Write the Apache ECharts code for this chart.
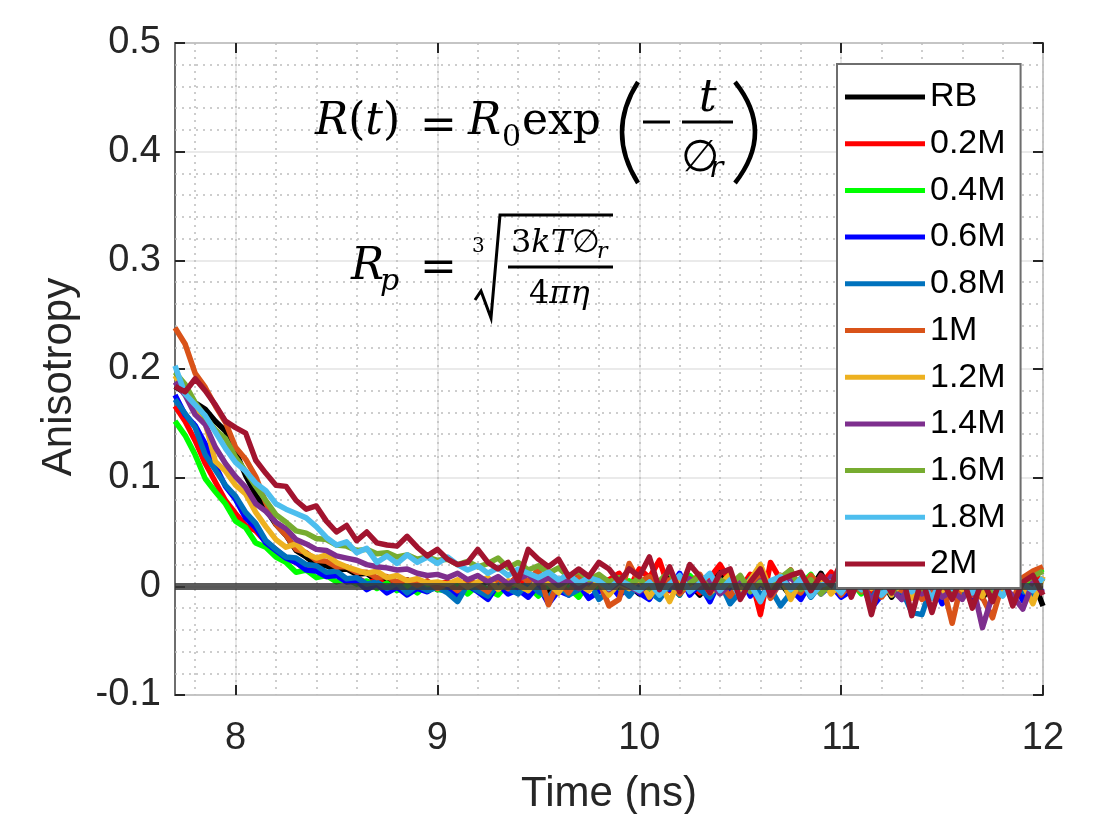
<!DOCTYPE html>
<html>
<head>
<meta charset="utf-8">
<title>Anisotropy</title>
<script src="https://cdn.jsdelivr.net/npm/echarts@6/dist/echarts.min.js"></script>
<style>
  html, body { margin: 0; padding: 0; background: #fff; }
  #chartContainer { width: 1106px; height: 814px; }
</style>
</head>
<body>
<div id="chartContainer"></div>
<script>
// 时间 (ns)
const times = [
  7.70, 7.75, 7.80, 7.85, 7.90, 7.95,
  8.00, 8.05, 8.10, 8.15, 8.20, 8.25, 8.30, 8.35, 8.40, 8.45, 8.50, 8.55, 8.60, 8.65, 8.70, 8.75, 8.80, 8.85, 8.90, 8.95,
  9.00, 9.05, 9.10, 9.15, 9.20, 9.25, 9.30, 9.35, 9.40, 9.45, 9.50, 9.55, 9.60, 9.65, 9.70, 9.75, 9.80, 9.85, 9.90, 9.95,
  10.00, 10.05, 10.10, 10.15, 10.20, 10.25, 10.30, 10.35, 10.40, 10.45, 10.50, 10.55, 10.60, 10.65, 10.70, 10.75, 10.80, 10.85, 10.90, 10.95,
  11.00, 11.05, 11.10, 11.15, 11.20, 11.25, 11.30, 11.35, 11.40, 11.45, 11.50, 11.55, 11.60, 11.65, 11.70, 11.75, 11.80, 11.85, 11.90, 11.95,
  12.00
];

// 各浓度的各向异性数据
const rb = [
  0.184, 0.178, 0.169, 0.163, 0.152, 0.143, 0.124, 0.102, 0.084, 0.071, 0.057, 0.047, 0.033, 0.027,
  0.020, 0.019, 0.015, 0.016, 0.011, 0.012, 0.005, 0.008, 0.002, 0.006, -0.001, 0.004, -0.003,
  0.002, -0.004, 0.003, -0.001, 0.005, -0.006, 0.001, -0.003, 0.004, -0.002,
  -0.005, 0.002, -0.001, -0.006, 0.003, -0.002, 0.006, -0.004, 0.001, -0.007,
  0.004, -0.002, 0.008, -0.005, 0.002, -0.008, 0.006, 0.013, -0.003, 0.005,
  -0.006, 0.010, -0.004, 0.003, -0.009, 0.007, -0.002, 0.012, -0.005, 0.004,
  -0.008, 0.009, -0.003, 0.006, -0.010, 0.004, -0.006, 0.011, -0.002, -0.009,
  0.005, -0.004, 0.008, -0.011, 0.003, -0.006, 0.010, -0.003, 0.006, -0.018
];
const m02 = [
  0.166, 0.152, 0.134, 0.113, 0.096, 0.079, 0.067, 0.056, 0.051, 0.041, 0.034, 0.026, 0.022, 0.015,
  0.015, 0.009, 0.011, 0.005, 0.008, 0.003, 0.006, 0.001, 0.004, -0.002, 0.003, 0.000, 0.002,
  0.004, -0.002, 0.006, 0.001, -0.003, 0.005, 0.002, 0.009, -0.001, 0.004,
  0.007, -0.002, 0.005, 0.010, 0.001, -0.003, 0.006, 0.012, -0.002, 0.016,
  0.008, 0.024, -0.004, 0.010, 0.003, -0.006, 0.008, 0.020, 0.004, -0.003,
  0.011, -0.026, 0.022, 0.006, 0.015, -0.004, 0.009, 0.002, 0.013, -0.003,
  0.007, 0.012, -0.005, 0.009, 0.002, -0.008, 0.010, 0.004, -0.006, 0.008,
  -0.003, 0.006, -0.009, 0.004, 0.011, -0.002, 0.007, -0.006, 0.012, 0.004
];
const m04 = [
  0.152, 0.139, 0.121, 0.099, 0.087, 0.076, 0.060, 0.054, 0.040, 0.036, 0.027, 0.022, 0.013, 0.015,
  0.008, 0.010, 0.004, 0.007, 0.002, 0.005, -0.002, 0.003, -0.004, 0.001, -0.006, 0.002, -0.003,
  -0.004, 0.002, -0.007, 0.001, -0.003, -0.008, 0.003, -0.005, 0.000, -0.009,
  0.002, -0.006, -0.001, -0.010, 0.004, -0.004, 0.001, -0.007, 0.005, -0.003,
  0.008, -0.002, 0.004, -0.008, 0.010, 0.001, -0.005, 0.006, -0.012, 0.003,
  -0.004, 0.009, -0.002, 0.005, -0.008, 0.002, 0.011, -0.004, 0.006, -0.001,
  0.004, -0.007, 0.008, -0.002, 0.012, -0.005, 0.003, -0.009, 0.006, 0.001,
  -0.006, 0.009, -0.003, 0.005, -0.008, 0.007, 0.002, -0.005, 0.010, 0.016
];
const m06 = [
  0.176, 0.158, 0.148, 0.131, 0.111, 0.092, 0.080, 0.063, 0.054, 0.040, 0.033, 0.026, 0.022, 0.015,
  0.014, 0.009, 0.010, 0.004, 0.005, -0.003, 0.002, -0.006, -0.001, -0.008, -0.002, -0.005, 0.001,
  -0.003, -0.009, 0.001, -0.005, -0.012, 0.002, -0.007, -0.003, -0.010, 0.001,
  -0.016, -0.004, -0.008, 0.002, -0.011, -0.005, 0.003, -0.009, 0.001, -0.006,
  -0.012, 0.005, -0.003, 0.012, -0.008, 0.002, -0.014, 0.006, -0.004, 0.009,
  -0.009, 0.003, -0.006, 0.010, -0.002, -0.012, 0.004, -0.007, 0.001, -0.010,
  -0.004, 0.006, -0.020, -0.008, 0.003, -0.012, 0.001, -0.006, 0.005, -0.016,
  -0.002, 0.008, -0.010, -0.004, 0.003, -0.008, 0.006, -0.013, 0.001, -0.005
];
const m08 = [
  0.172, 0.159, 0.146, 0.121, 0.107, 0.093, 0.083, 0.068, 0.058, 0.042, 0.034, 0.027, 0.026, 0.020,
  0.019, 0.013, 0.014, 0.007, 0.008, 0.002, 0.004, -0.002, 0.003, -0.006, 0.001, -0.004, -0.001,
  -0.006, -0.014, 0.002, -0.004, -0.009, 0.003, -0.002, -0.007, 0.004, -0.005,
  -0.010, 0.001, -0.008, -0.003, 0.005, -0.012, -0.004, 0.002, -0.009, 0.003,
  -0.005, -0.012, 0.001, -0.008, 0.006, -0.003, -0.010, 0.004, -0.016, -0.005,
  0.007, -0.008, -0.002, -0.018, -0.006, 0.005, -0.010, 0.002, -0.004, 0.008,
  -0.006, 0.003, -0.012, 0.004, -0.008, -0.003, -0.024, -0.026, 0.002, -0.007,
  0.004, -0.010, 0.001, -0.005, 0.007, -0.008, 0.003, -0.004, -0.009, 0.008
];
const m10 = [
  0.238, 0.223, 0.196, 0.183, 0.166, 0.151, 0.128, 0.117, 0.101, 0.077, 0.057, 0.047, 0.034, 0.031,
  0.024, 0.023, 0.018, 0.018, 0.013, 0.013, 0.008, 0.009, 0.004, 0.006, 0.001, 0.005, -0.002,
  0.003, -0.004, 0.006, 0.001, -0.005, 0.008, -0.002, 0.012, 0.004, 0.016,
  -0.017, 0.004, -0.006, 0.008, -0.003, 0.005, -0.018, -0.012, 0.021, 0.004,
  0.009, -0.004, 0.006, -0.007, 0.003, 0.011, -0.005, 0.002, -0.009, 0.005,
  -0.003, 0.008, -0.011, 0.004, 0.000, -0.006, 0.010, -0.002, 0.006, -0.008,
  0.003, -0.005, 0.007, -0.010, 0.002, -0.004, 0.009, -0.012, -0.006, 0.004,
  -0.034, 0.006, -0.008, -0.010, -0.029, 0.003, -0.012, 0.008, 0.014, 0.018
];
const m12 = [
  0.194, 0.178, 0.164, 0.150, 0.115, 0.106, 0.093, 0.085, 0.068, 0.055, 0.043, 0.036, 0.039, 0.030,
  0.026, 0.029, 0.022, 0.018, 0.015, 0.012, 0.014, 0.008, 0.010, 0.005, 0.007, 0.003, 0.004,
  0.002, 0.006, -0.001, 0.004, 0.008, -0.003, 0.005, 0.001, -0.004, 0.006,
  0.003, -0.006, 0.008, 0.002, -0.004, 0.005, -0.008, 0.003, -0.002, 0.007,
  -0.010, 0.004, -0.014, 0.006, -0.003, 0.009, -0.006, 0.002, 0.011, -0.005,
  0.006, 0.020, -0.004, 0.010, -0.012, 0.005, -0.002, 0.008, -0.007, 0.003,
  -0.005, 0.009, -0.002, 0.012, -0.008, 0.004, -0.011, 0.006, 0.001, -0.006,
  0.008, -0.003, 0.005, -0.009, 0.010, -0.004, 0.007, 0.002, -0.016, 0.009
];
const m14 = [
  0.188, 0.176, 0.158, 0.149, 0.128, 0.113, 0.101, 0.091, 0.076, 0.069, 0.059, 0.053, 0.043, 0.039,
  0.034, 0.033, 0.028, 0.026, 0.024, 0.020, 0.018, 0.017, 0.015, 0.016, 0.012, 0.010, 0.011,
  0.008, 0.012, 0.006, 0.010, 0.004, 0.009, 0.002, 0.007, 0.011, 0.003,
  0.008, 0.001, 0.006, -0.002, 0.005, 0.009, -0.003, 0.004, 0.000, -0.005,
  0.003, -0.006, 0.002, -0.003, 0.007, -0.001, 0.004, -0.007, 0.002, 0.006,
  -0.004, 0.005, -0.008, 0.003, 0.008, -0.002, 0.004, -0.006, 0.009, 0.001,
  -0.005, 0.006, -0.014, 0.002, -0.003, -0.012, 0.004, -0.007, 0.001, -0.010,
  -0.004, -0.012, 0.003, -0.038, -0.008, 0.002, -0.009, -0.021, 0.004, -0.006
];
const m16 = [
  0.197, 0.186, 0.169, 0.156, 0.144, 0.136, 0.119, 0.106, 0.092, 0.079, 0.066, 0.059, 0.051, 0.049,
  0.044, 0.043, 0.038, 0.037, 0.033, 0.034, 0.030, 0.031, 0.027, 0.029, 0.025, 0.027, 0.024,
  0.025, 0.020, 0.023, 0.018, 0.021, 0.026, 0.017, 0.022, 0.015, 0.019,
  0.012, 0.017, 0.009, 0.014, 0.006, 0.011, 0.004, 0.008, 0.002, 0.007,
  -0.002, 0.005, 0.014, -0.004, 0.003, 0.009, -0.003, 0.006, 0.001, 0.010,
  -0.005, 0.004, -0.002, 0.008, 0.015, -0.003, 0.006, -0.007, 0.003, 0.000,
  0.006, -0.004, 0.008, 0.002, -0.006, 0.005, 0.011, -0.002, 0.007, 0.003,
  -0.003, 0.007, 0.001, 0.010, -0.004, 0.006, 0.012, 0.003, 0.009, 0.014
];
const m18 = [
  0.203, 0.177, 0.167, 0.157, 0.142, 0.127, 0.114, 0.106, 0.095, 0.088, 0.076, 0.071, 0.067, 0.063,
  0.055, 0.045, 0.038, 0.041, 0.031, 0.035, 0.022, 0.028, 0.021, 0.029, 0.022, 0.027, 0.021,
  0.027, 0.020, 0.015, 0.019, 0.012, 0.017, 0.010, 0.016, 0.012, 0.008,
  0.013, 0.006, 0.011, 0.003, 0.008, 0.005, -0.002, 0.006, 0.001, -0.004,
  0.004, -0.008, 0.002, 0.010, -0.005, 0.003, 0.012, -0.004, 0.006, -0.010,
  0.002, -0.014, 0.005, 0.009, -0.003, 0.007, -0.009, 0.001, 0.004, -0.006,
  0.008, -0.003, 0.005, -0.008, 0.002, 0.010, -0.005, 0.003, -0.011, 0.006,
  -0.002, 0.007, -0.006, 0.004, 0.000, -0.009, 0.005, 0.002, -0.004, 0.008
];
const m20 = [
  0.184, 0.179, 0.191, 0.180, 0.167, 0.152, 0.146, 0.141, 0.116, 0.104, 0.093, 0.092, 0.079, 0.071,
  0.074, 0.060, 0.050, 0.056, 0.042, 0.050, 0.040, 0.038, 0.037, 0.046, 0.036, 0.028, 0.034,
  0.025, 0.020, 0.022, 0.034, 0.022, 0.016, 0.022, 0.005, 0.034, 0.025,
  0.018, 0.025, 0.009, 0.016, 0.009, 0.022, 0.016, 0.004, 0.016, 0.009,
  0.027, -0.003, 0.018, -0.005, 0.020, 0.009, -0.006, 0.012, 0.016, -0.012,
  0.004, 0.016, -0.008, 0.006, 0.010, 0.013, -0.004, 0.010, 0.001, 0.022,
  -0.010, 0.012, -0.026, 0.010, -0.006, 0.014, -0.027, 0.008, -0.024, 0.006,
  -0.012, 0.010, -0.020, 0.006, -0.014, 0.012, -0.018, 0.004, 0.010, -0.008
];

const seriesNames = ["RB", "0.2M", "0.4M", "0.6M", "0.8M", "1M", "1.2M", "1.4M", "1.6M", "1.8M", "2M"];
const seriesValues = [rb, m02, m04, m06, m08, m10, m12, m14, m16, m18, m20];
const colors = ["#000000", "#ff0000", "#00ff00", "#0000ff", "#0072bd", "#d95319",
  "#edb120", "#7e2f8e", "#77ac30", "#4dbeee", "#a2142f"];

// 刻度
const xTicks = [8, 9, 10, 11, 12];
const xMinorTicks = [7.8, 8.0, 8.2, 8.4, 8.6, 8.8, 9.0, 9.2, 9.4, 9.6, 9.8, 10.0,
  10.2, 10.4, 10.6, 10.8, 11.0, 11.2, 11.4, 11.6, 11.8, 12.0];

seriesValues.forEach((arr, k) => {
  if (arr.length !== times.length) {
    throw new Error(seriesNames[k] + " has " + arr.length + " values");
  }
});

const FONT = "'Liberation Sans', Arial, Helvetica, sans-serif";
const MATH = "'DejaVu Serif', 'Liberation Serif', serif";
const TICK_COLOR = "#262626";
const BOX_COLOR = "#6e6e6e";

// 公式文字
function mathText(x, y, text, size, italic) {
  return {
    type: "text", x: x, y: y, z: 20,
    style: {
      text: text, fontSize: size, fontFamily: MATH,
      fontStyle: italic ? "italic" : "normal",
      fill: "#000", align: "left", verticalAlign: "middle"
    }
  };
}
function richText(x, y, text, size) {
  return {
    type: "text", x: x, y: y, z: 20,
    style: {
      text: text, fontSize: size, fontFamily: MATH, fill: "#000",
      align: "left", verticalAlign: "middle",
      rich: {
        i: { fontStyle: "italic", fontSize: size, fontFamily: MATH, fill: "#000" },
        u: { fontStyle: "normal", fontSize: size, fontFamily: MATH, fill: "#000" }
      }
    }
  };
}
function bar(x1, y1, x2, y2) {
  return {
    type: "line", z: 20,
    shape: { x1: x1, y1: y1, x2: x2, y2: y2 },
    style: { stroke: "#000", lineWidth: 3 }
  };
}
function paren(x1, y1, x2, y2, cx, cy) {
  return {
    type: "bezierCurve", z: 20,
    shape: { x1: x1, y1: y1, x2: x2, y2: y2, cpx1: cx, cpy1: cy },
    style: { stroke: "#000", lineWidth: 4.5, fill: null }
  };
}

const formulaGraphics = [
  // R(t) = R0 exp(-t/∅r)
  richText(315, 123, "{i|R}{u|(}{i|t}{u|)}", 44),
  mathText(420, 128, "=", 44),
  mathText(468, 123, "R", 44, true),
  mathText(502, 138, "0", 30),
  mathText(522, 123, "exp", 44),
  paren(638, 82, 638, 183, 606, 132),
  bar(643, 122, 670, 122),
  mathText(699, 100, "t", 44, true),
  bar(682, 122, 733, 122),
  mathText(681, 160, "∅", 44),
  mathText(709, 169, "r", 30, true),
  paren(735, 82, 735, 183, 775, 132),
  // Rp = cbrt(3kT∅r / 4πη)
  mathText(351, 268, "R", 44, true),
  mathText(380, 282, "p", 30, true),
  mathText(420, 270, "=", 44),
  mathText(472, 247, "3", 20),
  {
    type: "polyline", z: 20,
    shape: { points: [[475, 300], [481, 291], [491, 318], [500, 215], [613, 215]] },
    style: { stroke: "#000", lineWidth: 3, fill: null }
  },
  richText(511, 244, "{u|3}{i|kT}{u|∅}", 32),
  mathText(597, 252, "r", 22, true),
  bar(508, 267, 613, 267),
  richText(529, 295, "{u|4}{i|πη}", 32)
];

const chartDom = document.getElementById("chartContainer");
const myChart = echarts.init(chartDom);

const lineSeries = seriesNames.map((name, k) => ({
  name: name,
  type: "line",
  xAxisIndex: 0,
  yAxisIndex: 0,
  data: times.map((t, i) => [t, seriesValues[k][i]]),
  showSymbol: false,
  symbol: "none",
  clip: true,
  z: 2,
  lineStyle: { color: colors[k], width: 5.5, join: "round" },
  itemStyle: { color: colors[k] }
}));

// 零线
lineSeries.push({
  name: "zero",
  type: "line",
  data: [],
  z: 3,
  silent: true,
  markLine: {
    silent: true,
    symbol: "none",
    label: { show: false },
    lineStyle: { color: "rgba(55,55,55,0.82)", width: 7, type: "solid" },
    data: [{ yAxis: 0 }]
  }
});

const gridBox = { left: 175, right: 63, top: 43, bottom: 119, outerBoundsMode: "none", containLabel: false };

const option = {
  animation: false,
  backgroundColor: "#fff",
  grid: [
    Object.assign({ show: true, borderColor: BOX_COLOR, borderWidth: 2, backgroundColor: "transparent" }, gridBox),
    Object.assign({ show: false }, gridBox)
  ],
  legend: {
    data: seriesNames,
    orient: "vertical",
    left: 837,
    top: 64,
    padding: [13, 15, 4, 8],
    itemGap: 6.7,
    itemWidth: 80,
    itemHeight: 5,
    icon: "rect",
    selectedMode: false,
    backgroundColor: "#fff",
    borderColor: BOX_COLOR,
    borderWidth: 2,
    z: 10,
    textStyle: { fontSize: 34, lineHeight: 40, color: "#000", fontFamily: FONT }
  },
  xAxis: [
    {
      type: "value", gridIndex: 0, min: 7.7, max: 12, position: "bottom",
      name: "Time (ns)", nameLocation: "middle", nameGap: 78,
      nameTextStyle: { fontSize: 42, color: TICK_COLOR, fontFamily: FONT },
      axisLine: { show: false, onZero: false },
      axisTick: { show: true, inside: true, length: 10, customValues: xTicks,
        lineStyle: { color: TICK_COLOR, width: 2 } },
      axisLabel: { customValues: xTicks, fontSize: 38, color: TICK_COLOR, fontFamily: FONT, margin: 25 },
      splitLine: { show: true, lineStyle: { color: "#e3e3e3", width: 1.5 } }
    },
    {
      type: "value", gridIndex: 0, min: 7.7, max: 12, position: "top",
      axisLine: { show: false, onZero: false },
      axisTick: { show: true, inside: true, length: 10, customValues: xTicks,
        lineStyle: { color: TICK_COLOR, width: 2 } },
      axisLabel: { show: false },
      splitLine: { show: false }
    },
    {
      type: "value", gridIndex: 1, min: 7.7, max: 12, position: "bottom",
      axisLine: { show: false, onZero: false },
      axisTick: { show: false, customValues: xMinorTicks },
      axisLabel: { show: false },
      splitLine: { show: true, lineStyle: { color: "#bdbdbd", width: 1.5, type: [2, 5] } }
    }
  ],
  yAxis: [
    {
      type: "value", gridIndex: 0, min: -0.1, max: 0.5, interval: 0.1, position: "left",
      name: "Anisotropy", nameLocation: "middle", nameGap: 95, nameRotate: 90,
      nameTextStyle: { fontSize: 42, color: TICK_COLOR, fontFamily: FONT, padding: [0, 16, 0, 0] },
      axisLine: { show: false, onZero: false },
      axisTick: { show: true, inside: true, length: 10, lineStyle: { color: TICK_COLOR, width: 2 } },
      axisLabel: { fontSize: 38, color: TICK_COLOR, fontFamily: FONT, margin: 14 },
      splitLine: { show: true, lineStyle: { color: "#e3e3e3", width: 1.5 } },
      minorTick: { show: false, splitNumber: 5 },
      minorSplitLine: { show: true, lineStyle: { color: "#bdbdbd", width: 1.5, type: [2, 5] } }
    },
    {
      type: "value", gridIndex: 0, min: -0.1, max: 0.5, interval: 0.1, position: "right",
      axisLine: { show: false, onZero: false },
      axisTick: { show: true, inside: true, length: 10, lineStyle: { color: TICK_COLOR, width: 2 } },
      axisLabel: { show: false },
      splitLine: { show: false }
    },
    {
      type: "value", gridIndex: 1, min: -0.1, max: 0.5, show: false
    }
  ],
  graphic: formulaGraphics,
  series: lineSeries
};

myChart.setOption(option);

window.addEventListener("resize", function () {
  myChart.resize();
});
</script>
</body>
</html>
